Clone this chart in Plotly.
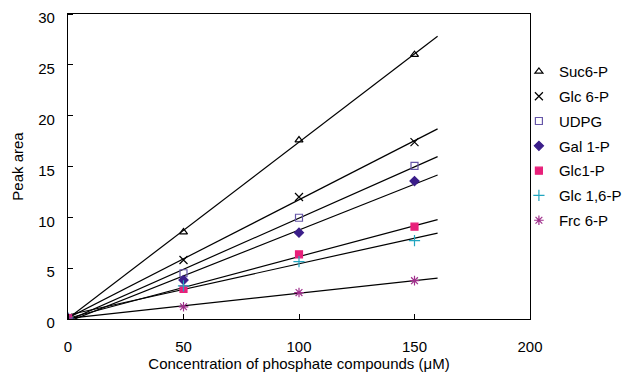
import numpy as np
import plotly.graph_objects as go

conc = [0, 50, 100, 150]
series_names = ["Suc6-P", "Glc 6-P", "UDPG", "Gal 1-P", "Glc1-P", "Glc 1,6-P", "Frc 6-P"]
suc6p = [0.1, 8.55, 17.6, 26.0]
glc6p = [0.1, 5.8, 12.0, 17.4]
udpg = [0.1, 4.5, 9.96, 15.07]
gal1p = [0.1, 3.83, 8.49, 13.57]
glc1p = [0.1, 2.95, 6.36, 9.08]
glc16p = [0.1, 3.25, 5.64, 7.7]
frc6p = [0.1, 1.2, 2.6, 3.77]
trend_range = [0, 160]
x_ticks = [0, 50, 100, 150, 200]
y_ticks = [0, 5, 10, 15, 20, 25, 30]

values = [suc6p, glc6p, udpg, gal1p, glc1p, glc16p, frc6p]
symbols = ["triangle-up-open", "x-thin-open", "square-open", "diamond", "square",
           "cross-thin-open", "asterisk-open"]
colors = ["#000000", "#000000", "#6656A8", "#3B1E8A", "#E8207A", "#22A6C0", "#A0308C"]
sizes = [7, 8, 7, 7, 7, 8, 8]

FAM = "Liberation Sans, Arial, sans-serif"

fig = go.Figure()
for name, vals in zip(series_names, values):
    slope, icpt = np.polyfit(conc, vals, 1)
    xs = np.array(trend_range, dtype=float)
    fig.add_trace(go.Scatter(x=xs, y=slope * xs + icpt, mode="lines",
                             line=dict(color="black", width=1.2),
                             showlegend=False, hoverinfo="skip"))

for i, (name, vals) in enumerate(zip(series_names, values)):
    fig.add_trace(go.Scatter(x=conc, y=vals, mode="markers", name=name,
                             legendgroup=name,
                             marker=dict(symbol=symbols[i], color=colors[i], size=sizes[i],
                                         line=dict(color=colors[i], width=1.2))))

fig.update_layout(
    width=623, height=377,
    margin=dict(l=68, r=93, t=14, b=58, autoexpand=False),
    paper_bgcolor="white", plot_bgcolor="white",
    font=dict(family=FAM, size=15, color="black"),
    showlegend=True,
    legend=dict(x=0.976, y=0.865, xanchor="left", yanchor="top",
                traceorder="grouped", tracegroupgap=2.3,
                font=dict(family=FAM, size=15, color="black"),
                itemwidth=30, bgcolor="rgba(0,0,0,0)"),
    xaxis=dict(range=[0, 200], tickvals=x_ticks, ticks="outside", ticklen=14,
               tickcolor="rgba(0,0,0,0)", showgrid=False, zeroline=False,
               showline=True, linecolor="black", linewidth=1.3, mirror=True,
               minor=dict(tickvals=x_ticks, ticks="inside", ticklen=5, tickwidth=1.3,
                          tickcolor="black", showgrid=False),
               tickfont=dict(family=FAM, size=15),
               title=dict(text="Concentration of phosphate compounds (μM)", standoff=4,
                          font=dict(family=FAM, size=15))),
    yaxis=dict(range=[0, 30], tickvals=y_ticks, ticks="outside", ticklen=9,
               tickcolor="rgba(0,0,0,0)", showgrid=False, zeroline=False,
               showline=True, linecolor="black", linewidth=1.3, mirror=True,
               ticklabelshift=4,
               minor=dict(tickvals=y_ticks, ticks="inside", ticklen=5, tickwidth=1.3,
                          tickcolor="black", showgrid=False),
               tickfont=dict(family=FAM, size=15),
               title=dict(text="Peak area", standoff=10, font=dict(family=FAM, size=15))),
)

post = """
document.body.style.margin='0';
document.querySelectorAll('path').forEach(function(p){
  if (p.style.shapeRendering === 'crispedges' || p.style.shapeRendering === 'crispEdges') {
    p.style.shapeRendering = 'auto';
  }
});
"""
fig.write_html("out.html", post_script=post, config={"displayModeBar": False})
